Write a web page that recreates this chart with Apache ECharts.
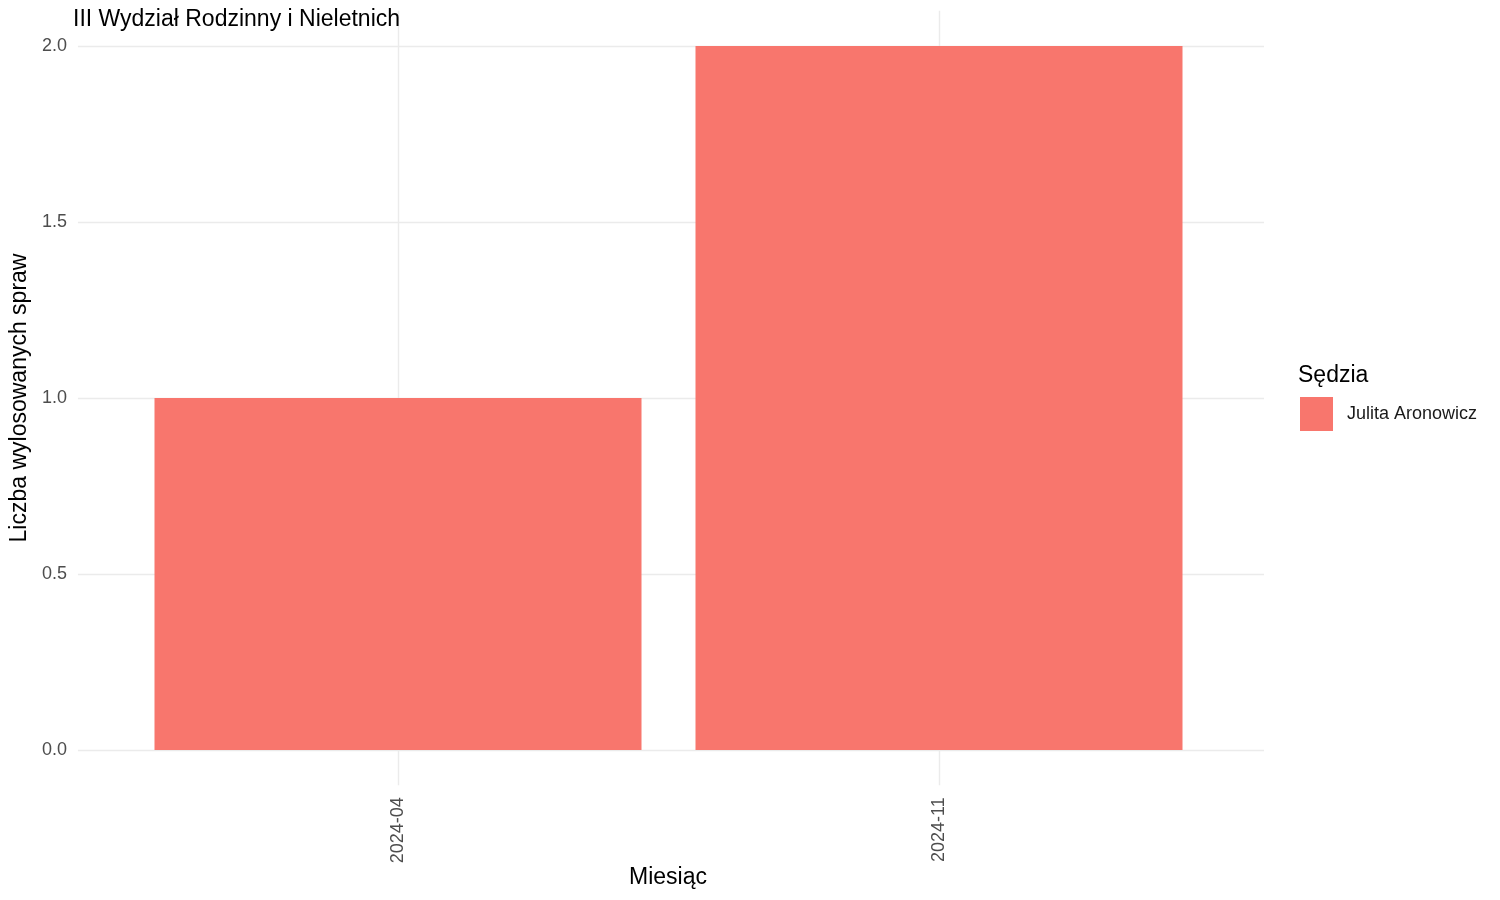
<!DOCTYPE html>
<html>
<head>
<meta charset="utf-8">
<script src="https://cdn.jsdelivr.net/npm/echarts@6/dist/echarts.min.js"></script>
<style>
html,body{margin:0;padding:0;background:#fff;}
#chart{width:1500px;height:900px;}
</style>
</head>
<body>
<div id="chart"></div>
<script>
const chartTitle = 'III Wydział Rodzinny i Nieletnich';
const months = ['2024-04', '2024-11'];
const seriesName = 'Julita Aronowicz';
const counts = [1, 2];
const yTicks = [0, 0.5, 1, 1.5, 2];
const xTitle = 'Miesiąc';
const yTitle = 'Liczba wylosowanych spraw';
const legendTitle = 'Sędzia';

const FONT = '"Liberation Sans", Arial, sans-serif';
const chart = echarts.init(document.getElementById('chart'), null, {renderer: 'canvas'});

chart.setOption({
  backgroundColor: '#ffffff',
  animation: false,
  textStyle: {fontFamily: FONT},
  title: {
    text: chartTitle,
    left: 68, top: 3,
    textStyle: {fontSize: 23, fontWeight: 'normal', color: '#000000', fontFamily: FONT}
  },
  legend: {
    show: true,
    left: 1300, top: 397,
    orient: 'vertical',
    itemWidth: 33, itemHeight: 34,
    itemGap: 4,
    padding: 0,
    icon: 'rect',
    textStyle: {fontSize: 18, color: '#1a1a1a', padding: [0, 0, 0, 9], fontFamily: FONT},
    data: [seriesName]
  },
  graphic: [
    {type: 'text', left: 1298, top: 364, style: {text: legendTitle, fontSize: 23, fill: '#000000', fontFamily: FONT}},
    {type: 'text', x: 668, y: 878, style: {text: xTitle, fontSize: 23, fill: '#000000', fontFamily: FONT, align: 'center', verticalAlign: 'middle'}}
  ],
  grid: [
    {left: 73, right: 236, top: 46, bottom: 150, containLabel: false},
    {left: 398, right: 561, top: 10.8, bottom: 114.8, containLabel: false}
  ],
  xAxis: [
    {gridIndex: 0, type: 'value', show: false, min: 0, max: 1},
    {
      gridIndex: 1, type: 'category', data: months, boundaryGap: false,
      axisLine: {show: false}, axisTick: {show: false},
      axisLabel: {rotate: 90, margin: 12, fontSize: 18, color: '#4d4d4d', fontFamily: FONT, interval: 0},
      splitLine: {show: true, interval: 0, lineStyle: {color: '#ebebeb', width: 1.4}}
    }
  ],
  yAxis: [
    {
      gridIndex: 0, type: 'value', min: 0, max: 2, interval: 0.5,
      axisLine: {show: false}, axisTick: {show: false},
      axisLabel: {margin: 11, fontSize: 18, color: '#4d4d4d', fontFamily: FONT, formatter: v => v.toFixed(1)},
      splitLine: {show: true, lineStyle: {color: '#ebebeb', width: 1.4}},
      name: yTitle, nameLocation: 'middle', nameRotate: 90, nameGap: 39,
      nameTextStyle: {fontSize: 23, color: '#000000', fontFamily: FONT}
    },
    {gridIndex: 1, type: 'value', show: false, min: -0.1, max: 2.1}
  ],
  series: [
    {
      name: seriesName, type: 'bar', xAxisIndex: 1, yAxisIndex: 1,
      data: counts, barWidth: 487, clip: false,
      itemStyle: {color: '#F8766D'}
    }
  ]
});
</script>
</body>
</html>
